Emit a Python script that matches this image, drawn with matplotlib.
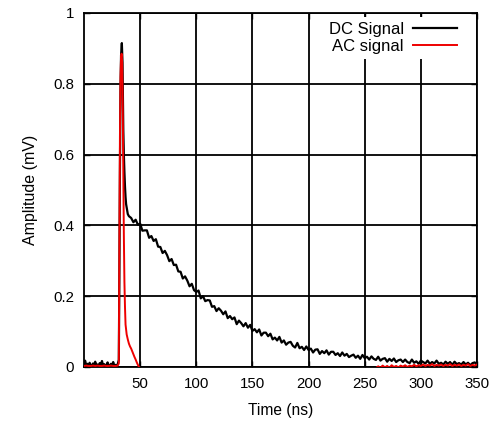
import numpy as np
import matplotlib
matplotlib.use("Agg")
import matplotlib.pyplot as plt

plt.rcParams['font.family'] = ['Liberation Sans', 'DejaVu Sans']

# ---- DC signal -------------------------------------------------------------
# baseline and fast pulse (explicit sample times, ns)
dc_head_t = [0, 1, 2, 3, 4, 5, 6, 7, 8, 9, 10, 11, 12, 13, 14, 15, 16, 17, 18,
             19, 20, 21, 22, 23, 24, 25, 26, 27, 28, 29, 30,
             31, 31.5, 32, 32.5, 33, 33.7, 34.3, 35, 35.5, 36, 36.5, 37, 37.5,
             38, 39, 40]
dc_head_v = [0.006, 0.018, 0.004, 0.009, 0.003, 0.012, 0.005, 0.002, 0.010,
             0.004, 0.015, 0.003, 0.007, 0.002, 0.011, 0.005, 0.017, 0.004,
             0.008, 0.003, 0.006, 0.013, 0.004, 0.002, 0.009, 0.005, 0.014,
             0.004, 0.006, 0.003, 0.008,
             0.020, 0.250, 0.550, 0.780, 0.880, 0.915, 0.860, 0.670, 0.600,
             0.550, 0.510, 0.480, 0.460, 0.450, 0.432, 0.426]
# slow tail, sampled every 2 ns from 42 ns
dc_tail_start = 42
dc_tail_step = 2
dc_tail_v = [
    0.421, 0.409, 0.416, 0.402, 0.405, 0.385, 0.386, 0.386, 0.365, 0.370,
    0.356, 0.361, 0.340, 0.339, 0.322, 0.328, 0.316, 0.299, 0.305, 0.288,
    0.289, 0.270, 0.269, 0.250, 0.256, 0.244, 0.228, 0.235, 0.217, 0.212,
    0.216, 0.194, 0.200, 0.186, 0.189, 0.188, 0.170, 0.172, 0.158, 0.166,
    0.159, 0.149, 0.157, 0.138, 0.144, 0.135, 0.140, 0.121, 0.131, 0.124,
    0.115, 0.124, 0.111, 0.119, 0.102, 0.107, 0.098, 0.106, 0.089, 0.097,
    0.097, 0.087, 0.094, 0.078, 0.083, 0.075, 0.085, 0.069, 0.075, 0.063,
    0.069, 0.071, 0.060, 0.055, 0.068, 0.053, 0.057, 0.048, 0.058, 0.048,
    0.052, 0.041, 0.049, 0.050, 0.037, 0.045, 0.039, 0.047, 0.035, 0.043,
    0.043, 0.034, 0.039, 0.031, 0.041, 0.032, 0.037, 0.028, 0.032, 0.035,
    0.026, 0.032, 0.023, 0.034, 0.025, 0.029, 0.021, 0.030, 0.023, 0.020,
    0.029, 0.018, 0.023, 0.025, 0.015, 0.023, 0.017, 0.024, 0.014, 0.019,
    0.021, 0.014, 0.021, 0.014, 0.011, 0.021, 0.012, 0.016, 0.009, 0.018,
    0.014, 0.010, 0.018, 0.009, 0.014, 0.010, 0.018, 0.009, 0.012, 0.007,
    0.015, 0.009, 0.014, 0.006, 0.015, 0.008, 0.011, 0.007, 0.014, 0.007,
    0.012, 0.005, 0.011, 0.013, 0.006]

# ---- AC signal -------------------------------------------------------------
ac_head_t = [0, 2, 4, 6, 8, 10, 12, 14, 16, 18, 20, 22, 24, 26, 28, 30,
             31, 31.5, 32, 32.5, 33, 33.5, 34, 34.5, 35, 35.5, 36, 36.5, 37,
             38, 39, 40, 41, 42, 43, 44, 45, 46, 47, 48, 49, 50,
             60, 100, 150, 200, 240, 255]
ac_head_v = [0.003, 0.004, 0.003, 0.003, 0.004, 0.003, 0.004, 0.003, 0.003,
             0.004, 0.003, 0.003, 0.004, 0.003, 0.003, 0.004,
             0.010, 0.350, 0.650, 0.820, 0.875, 0.885, 0.860, 0.740, 0.550,
             0.370, 0.240, 0.170, 0.120, 0.092, 0.078, 0.066, 0.058, 0.052,
             0.044, 0.036, 0.028, 0.021, 0.013, 0.006, 0.000, -0.004,
             -0.008, -0.008, -0.007, -0.006, -0.004, -0.003]
ac_tail_start = 260
ac_tail_step = 2
ac_tail_v = [
    -0.003, 0.002, -0.002, 0.004, -0.001, 0.003, -0.002, 0.005, 0.000, 0.003,
    -0.001, 0.004, 0.001, 0.005, 0.000, 0.004, 0.002, 0.006, 0.002, 0.005,
    0.003, 0.007, 0.003, 0.006, 0.004, 0.008, 0.003, 0.006, 0.004, 0.007,
    0.003, 0.006, 0.004, 0.008, 0.003, 0.006, 0.004, 0.007, 0.003, 0.006,
    0.004, 0.008, 0.003, 0.006, 0.004, 0.007]

x_ticks = [50, 100, 150, 200, 250, 300, 350]
y_ticks = [0, 0.2, 0.4, 0.6, 0.8, 1]
y_tick_labels = ["0", "0.2", "0.4", "0.6", "0.8", "1"]

dc_t = np.concatenate([dc_head_t,
                       dc_tail_start + dc_tail_step * np.arange(len(dc_tail_v))])
dc_v = np.concatenate([dc_head_v, dc_tail_v])
ac_t = np.concatenate([ac_head_t,
                       ac_tail_start + ac_tail_step * np.arange(len(ac_tail_v))])
ac_v = np.concatenate([ac_head_v, ac_tail_v])

fig = plt.figure(figsize=(4.92, 4.26), dpi=100)
ax = fig.add_axes([84 / 492, 59 / 426, 393 / 492, 354 / 426])

ax.plot(dc_t, dc_v, color="black", lw=1.6, label="DC Signal", zorder=3)
ax.plot(ac_t, ac_v, color="#ee0000", lw=1.4, label="AC signal", zorder=4)

ax.set_xlim(0, 350)
ax.set_ylim(0, 1)
ax.set_xticks(x_ticks)
ax.set_yticks(y_ticks)
ax.set_yticklabels(y_tick_labels)
ax.grid(True, color="black", lw=1.3)
ax.set_axisbelow(True)
ax.tick_params(direction="in", length=4, width=1, top=True, right=True,
               labelsize=10.8, pad=7, colors="black")
for s in ax.spines.values():
    s.set_linewidth(1.3)

ax.set_xlabel("Time (ns)", fontsize=11.2, labelpad=9)
ax.set_ylabel("Amplitude (mV)", fontsize=11.5, labelpad=11)

leg = ax.legend(loc="upper right", bbox_to_anchor=(0.962, 0.989),
                markerfirst=False, frameon=True, fancybox=False,
                framealpha=1, facecolor="white", edgecolor="none",
                fontsize=12, handlelength=2.65, handletextpad=0.55,
                labelspacing=0.1, borderpad=0.3, borderaxespad=0)
leg.set_zorder(5)

fig.savefig("out.png", dpi=100)
